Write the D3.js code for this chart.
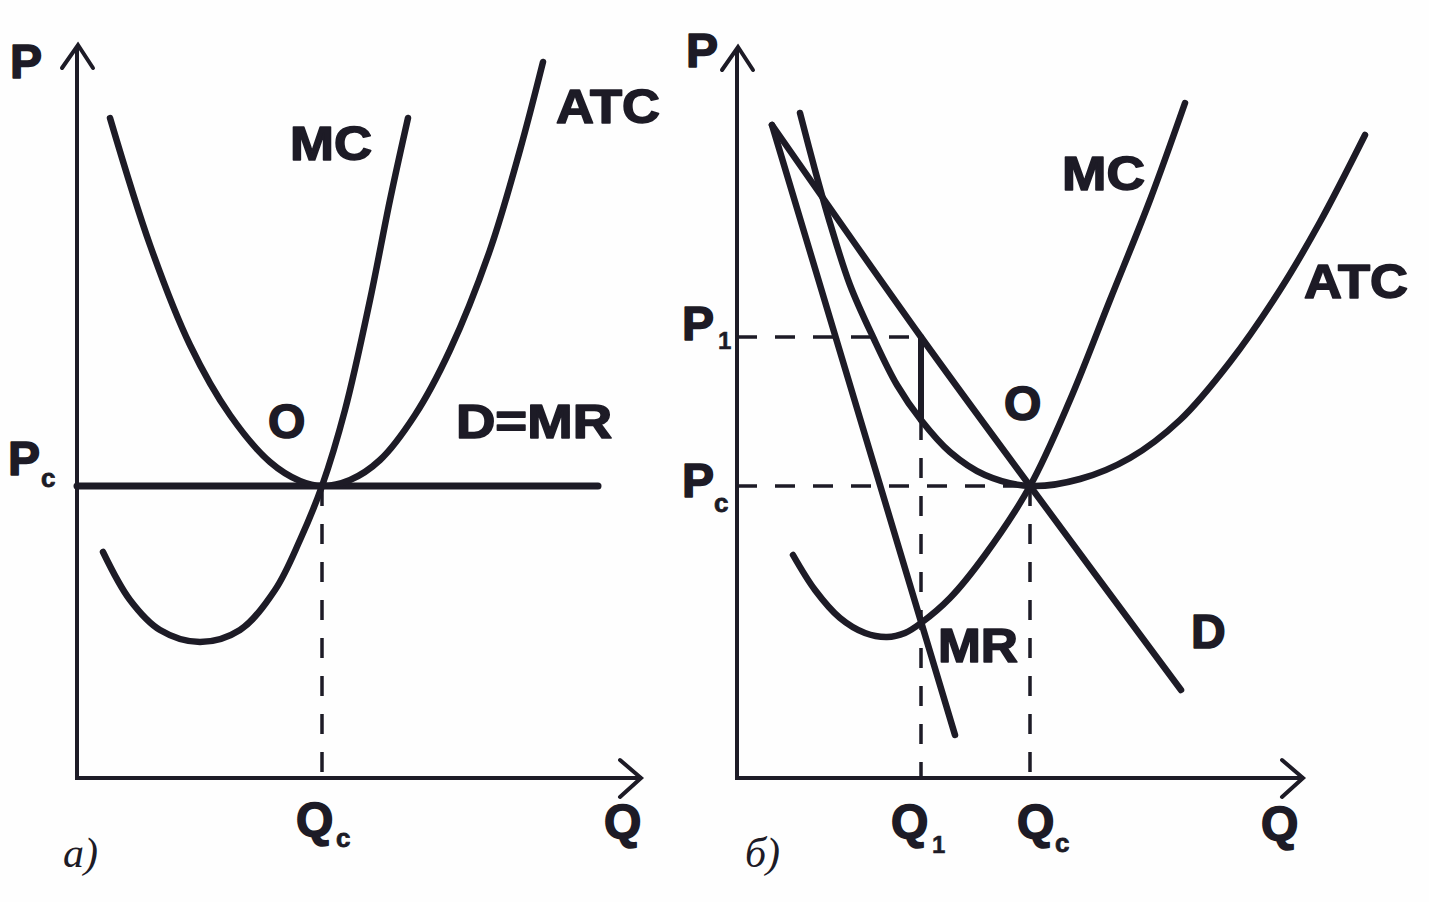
<!DOCTYPE html>
<html><head><meta charset="utf-8">
<script src="https://cdn.jsdelivr.net/npm/d3@7"></script>
<style>html,body{margin:0;padding:0;background:#fff;} svg{display:block}</style>
</head><body>
<svg id="chart" width="1429" height="902"></svg>
<script>
// ---------- Panel а (perfect competition), values in chart units ----------
const mcA  = [[0.52,4.52],[1.06,3.56],[1.66,2.96],[2.46,2.72],[3.26,2.96],[3.96,3.76],[4.46,4.76],[4.9,5.84],[5.36,7.36],[5.86,9.56],[6.26,11.56],[6.62,13.2]];
const atcA = [[0.66,13.2],[1.46,10.66],[2.26,8.66],[3.06,7.26],[3.86,6.32],[4.46,5.94],[4.9,5.84],[5.46,5.96],[6.06,6.36],[6.76,7.26],[7.46,8.56],[8.26,10.56],[8.86,12.56],[9.32,14.32]];
const demandA = [[0,5.84],[10.42,5.84]];
const pcA = 5.84, qcA = 4.9;
const axisEndA = [11.28, 14.66];

// ---------- Panel б (monopolistic competition) ----------
const mcB  = [[1.12,4.46],[1.56,3.76],[2.06,3.2],[2.56,2.9],[3.0,2.82],[3.36,2.9],[3.68,3.1],[4.26,3.6],[4.96,4.46],[5.86,5.84],[6.66,7.56],[7.46,9.56],[8.26,11.56],[8.96,13.5]];
const atcB = [[1.26,13.3],[1.56,12.16],[1.86,11.1],[2.26,9.86],[2.72,8.82],[3.2,7.86],[3.68,7.16],[4.26,6.52],[4.96,6.06],[5.86,5.84],[6.86,5.98],[7.86,6.4],[8.86,7.16],[9.86,8.32],[10.86,9.76],[11.66,11.12],[12.56,12.86]];
const demandB = [[0.7,13.06],[3.68,8.82],[5.86,5.84],[8.88,1.76]];
const mrB = [[0.7,13.06],[4.36,0.86]];
const pcB = 5.84, p1B = 8.82, q1B = 3.68, qcB = 5.86, atcAtQ1 = 7.16;
const axisEndB = [11.32, 14.62];

const ink = "#1d1b26";
const svg = d3.select("#chart");
svg.append("rect").attr("width",1429).attr("height",902).attr("fill","#fefefe");

const yS = d3.scaleLinear().domain([0,10]).range([778,278]);
const xA = d3.scaleLinear().domain([0,10]).range([77,577]);
const xB = d3.scaleLinear().domain([0,10]).range([737,1237]);

function drawPanel(x, axisEnd){
  const g = svg.append("g");
  const x0 = x(0), y0 = yS(0), xe = x(axisEnd[0]), ye = yS(axisEnd[1]);
  g.append("line").attr("x1",x0).attr("y1",y0+2).attr("x2",x0).attr("y2",ye+2)
   .attr("stroke",ink).attr("stroke-width",4);
  g.append("line").attr("x1",x0-2).attr("y1",y0).attr("x2",xe-2).attr("y2",y0)
   .attr("stroke",ink).attr("stroke-width",4);
  g.append("polyline").attr("points",`${x0-15},${ye+23} ${x0+1},${ye} ${x0+16},${ye+23}`)
   .attr("fill","none").attr("stroke",ink).attr("stroke-width",4).attr("stroke-linecap","round");
  g.append("polyline").attr("points",`${xe-21},${y0-18} ${xe},${y0} ${xe-21},${y0+19}`)
   .attr("fill","none").attr("stroke",ink).attr("stroke-width",4).attr("stroke-linecap","round");
  return g;
}
function curve(g, x, pts, w, smooth){
  const line = d3.line().x(d=>x(d[0])).y(d=>yS(d[1]));
  if (smooth) line.curve(d3.curveCatmullRom.alpha(0.5));
  g.append("path").attr("d",line(pts)).attr("fill","none").attr("stroke",ink)
   .attr("stroke-width",w).attr("stroke-linecap","round").attr("stroke-linejoin","round");
}
function dashed(g, x, a, b){
  g.append("line").attr("x1",x(a[0])).attr("y1",yS(a[1])).attr("x2",x(b[0])).attr("y2",yS(b[1]))
   .attr("stroke",ink).attr("stroke-width",3.5).attr("stroke-dasharray","20,18");
}
function label(t, px, py, opts={}){
  const el = svg.append("text").attr("x",px).attr("y",py).text(t)
    .attr("fill",ink)
    .attr("font-family", opts.serif ? "'Liberation Serif', 'DejaVu Serif', serif" : "'Liberation Sans', Arial, sans-serif")
    .attr("font-weight", opts.serif ? "normal" : "bold")
    .attr("font-style", opts.serif ? "italic" : "normal")
    .attr("font-size", opts.size || 48);
  if (opts.len) el.attr("textLength",opts.len).attr("lengthAdjust","spacingAndGlyphs");
  if (!opts.serif) el.attr("stroke",ink).attr("stroke-width",opts.sw===undefined?1.6:opts.sw).attr("stroke-linejoin","round");
  return el;
}

// ----- Panel а -----
const gA = drawPanel(xA, axisEndA);
dashed(gA, xA, [qcA,pcA], [qcA,0]);
curve(gA, xA, demandA, 7, false);
curve(gA, xA, mcA, 6.5, true);
curve(gA, xA, atcA, 6.5, true);

label("P", 10, 78);
label("MC", 290, 160, {len:82});
label("ATC", 556, 123, {len:104});
label("O", 268, 438);
label("D=MR", 456, 438, {len:156});
label("P", 8, 475);
label("c", 41, 487, {size:26, sw:0.8});
label("Q", 296, 836);
label("c", 336, 847, {size:26, sw:0.8});
label("Q", 604, 838);
label("а)", 63, 867, {serif:true, size:42});

// ----- Panel б -----
const gB = drawPanel(xB, axisEndB);
dashed(gB, xB, [0,p1B], [q1B,p1B]);
dashed(gB, xB, [0,pcB], [qcB,pcB]);
dashed(gB, xB, [q1B,atcAtQ1], [q1B,0]);
dashed(gB, xB, [qcB,pcB], [qcB,0]);
curve(gB, xB, [[q1B,p1B],[q1B,atcAtQ1]], 6, false);
curve(gB, xB, demandB, 6.5, true);
curve(gB, xB, mrB, 6.5, false);
curve(gB, xB, mcB, 6.5, true);
curve(gB, xB, atcB, 6.5, true);

label("P", 686, 67);
label("P", 682, 340);
label("1", 718, 349, {size:24, sw:0.5});
label("P", 682, 497);
label("c", 714, 512, {size:26, sw:0.8});
label("Q", 891, 838);
label("1", 932, 853, {size:24, sw:0.5});
label("Q", 1017, 838);
label("c", 1055, 852, {size:26, sw:0.8});
label("Q", 1261, 840);
label("MC", 1062, 190, {len:83});
label("ATC", 1304, 298, {len:104});
label("O", 1004, 420);
label("D", 1191, 648);
label("MR", 938, 662, {len:80});
label("б)", 745, 867, {serif:true, size:42});
</script>
</body></html>
